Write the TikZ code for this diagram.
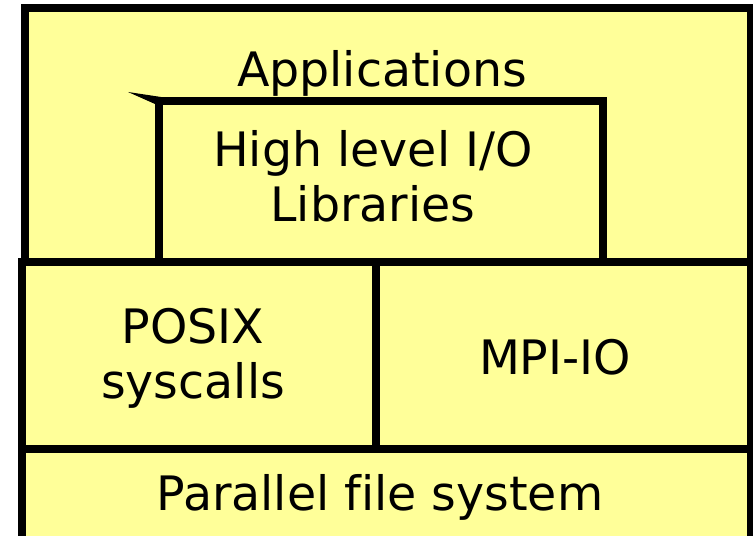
\documentclass[tikz,border=0pt]{standalone}
\usepackage{fontspec}
\setsansfont{DejaVu Sans}[Ligatures=NoCommon]
\definecolor{layerfill}{RGB}{255,255,153}

\begin{document}
\begin{tikzpicture}
  [box/.style={draw=black, line width=\linew cm, fill=layerfill},
   edge/.style={draw=black, line width=\linew cm},
   layertext/.style={font=\sffamily\fontsize{27}{31.4}\selectfont, inner sep=0pt, align=center}]

  \newcommand{\linew}{0.16}

  \useasboundingbox (0,0) rectangle (15.06,10.72);

  % applications layer
  \draw[box] (0.50,5.48) rectangle (15.02,10.56);

  % high level libraries, open at the bottom
  \coordinate (h1) at (3.18,5.48);
  \coordinate (h2) at (3.18,8.70);
  \coordinate (h3) at (12.06,8.70);
  \coordinate (h4) at (12.06,5.48);
  \draw[edge] (h1) -- (h2) -- (h3) -- (h4);
  \fill (2.56,8.88) -- (3.22,8.78) -- (3.10,8.64) -- cycle;

  % system layers
  \draw[box] (0.44,-0.10) rectangle (15.02,5.48);
  \draw[edge] (7.52,5.48) -- (7.52,1.74);
  \draw[edge] (0.44,1.74) -- (15.02,1.74);

  \node[layertext, anchor=base] (apps) at (7.64,8.98) {Applications};
  \node[layertext] (hlio) at (7.46,7.19) {High level I/O\\Libraries};
  \node[layertext] (posix) at (3.86,3.55) {POSIX\\syscalls};
  \node[layertext, anchor=base] (mpiio) at (11.10,3.22) {MPI-IO};
  \node[layertext, anchor=base] (pfs) at (7.60,0.50) {Parallel file system};

\end{tikzpicture}
\end{document}
